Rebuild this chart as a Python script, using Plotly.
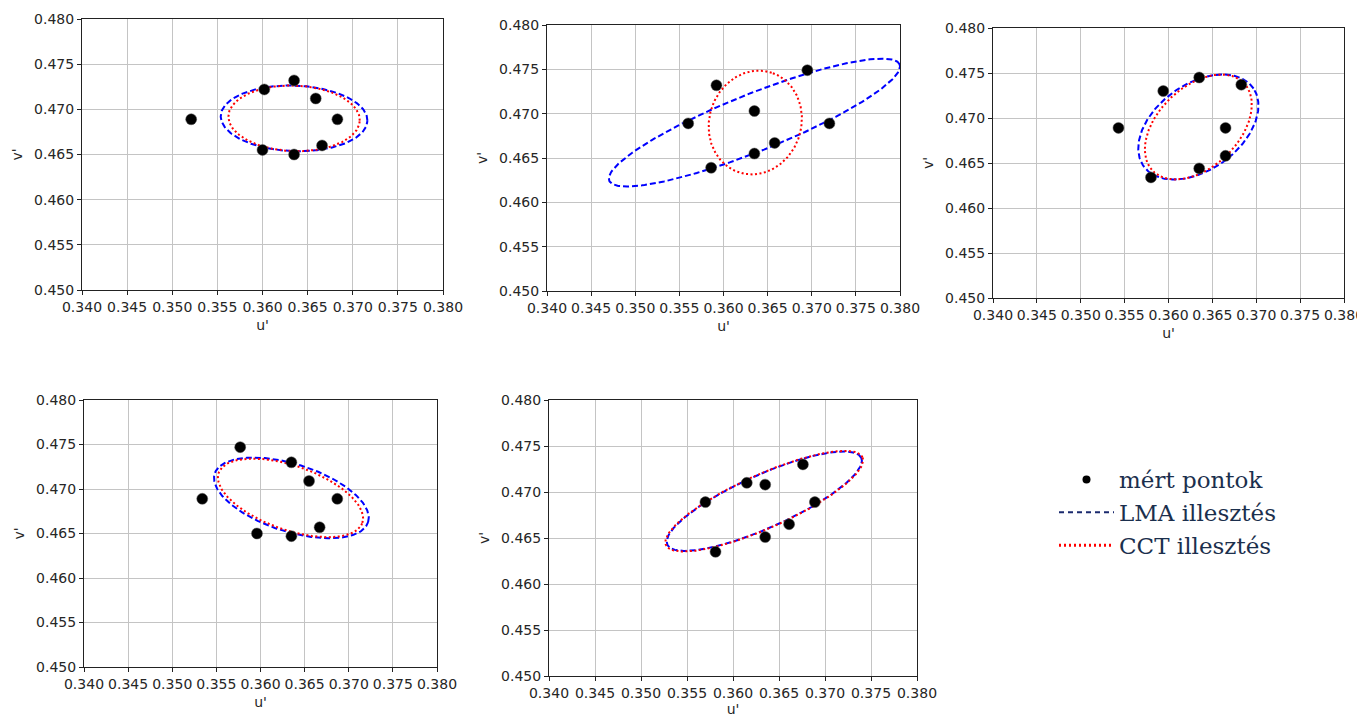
import numpy as np
import plotly.graph_objects as go

# ---------------- data ----------------
# measured points per panel (u', v')
u_p1 = [0.3521, 0.3602, 0.3635, 0.3659, 0.3683, 0.3666, 0.3635, 0.3600]
v_p1 = [0.4689, 0.4722, 0.4732, 0.4712, 0.4689, 0.4660, 0.4650, 0.4655]

u_p2 = [0.3560, 0.3592, 0.3586, 0.3635, 0.3635, 0.3658, 0.3695, 0.3720]
v_p2 = [0.4689, 0.4732, 0.4639, 0.4703, 0.4655, 0.4667, 0.4749, 0.4689]

u_p3 = [0.3543, 0.3594, 0.3635, 0.3683, 0.3665, 0.3665, 0.3635, 0.3580]
v_p3 = [0.4689, 0.4730, 0.4745, 0.4737, 0.4689, 0.4658, 0.4644, 0.4634]

u_p4 = [0.3534, 0.3577, 0.3596, 0.3635, 0.3655, 0.3687, 0.3667, 0.3635]
v_p4 = [0.4689, 0.4747, 0.4650, 0.4730, 0.4709, 0.4689, 0.4657, 0.4647]

u_p5 = [0.3570, 0.3581, 0.3615, 0.3635, 0.3635, 0.3661, 0.3676, 0.3689]
v_p5 = [0.4689, 0.4635, 0.4710, 0.4708, 0.4651, 0.4665, 0.4730, 0.4689]

# fitted ellipses: centre u, centre v, semi-major, semi-minor, angle (deg)
lma_p1 = [0.3635, 0.4690, 0.00813, 0.00363, -2.0]
cct_p1 = [0.3635, 0.4690, 0.00728, 0.00363, -2.0]
lma_p2 = [0.3635, 0.4690, 0.01771, 0.00324, 21.7]
cct_p2 = [0.3636, 0.4690, 0.00592, 0.00521, 71.7]
lma_p3 = [0.3634, 0.4690, 0.00761, 0.00480, 34.2]
cct_p3 = [0.3634, 0.4690, 0.00713, 0.00451, 42.0]
lma_p4 = [0.3635, 0.4690, 0.00911, 0.00380, -17.4]
cct_p4 = [0.3634, 0.4690, 0.00861, 0.00361, -19.0]
lma_p5 = [0.3634, 0.4690, 0.01155, 0.00289, 24.1]
cct_p5 = [0.3634, 0.4690, 0.01170, 0.00292, 24.1]

x_ticks = [0.340, 0.345, 0.350, 0.355, 0.360, 0.365, 0.370, 0.375, 0.380]
y_ticks = [0.450, 0.455, 0.460, 0.465, 0.470, 0.475, 0.480]

legend_labels = ["mért pontok", "LMA illesztés", "CCT illesztés"]

panels = [
    (u_p1, v_p1, lma_p1, cct_p1),
    (u_p2, v_p2, lma_p2, cct_p2),
    (u_p3, v_p3, lma_p3, cct_p3),
    (u_p4, v_p4, lma_p4, cct_p4),
    (u_p5, v_p5, lma_p5, cct_p5),
]

# ---------------- layout geometry (pixel boxes of the plot areas, screen px) ----------------
W, H = 1365, 715
OFF = 8  # page body margin
boxes = [  # left, right, top, bottom in screen px
    (82, 443, 19, 290),
    (547, 900, 25, 291),
    (993, 1344, 28, 298),
    (84, 437, 400, 667),
    (549, 917, 400, 676),
]
title_standoff = [6, 6, 6, 6, 1]


def ellipse(params, n=240):
    cu, cv, a, b, ang = params
    t = np.linspace(0, 2 * np.pi, n)
    th = np.deg2rad(ang)
    x = cu + a * np.cos(t) * np.cos(th) - b * np.sin(t) * np.sin(th)
    y = cv + a * np.cos(t) * np.sin(th) + b * np.sin(t) * np.cos(th)
    return x, y


fig = go.Figure()
layout = {}
for i, ((u, v, lma, cct), (l, r, t, b)) in enumerate(zip(panels, boxes)):
    l, r, t, b = l - OFF, r - OFF, t - OFF, b - OFF
    n = "" if i == 0 else str(i + 1)
    xa, ya = "x" + n, "y" + n
    ex, ey = ellipse(lma)
    fig.add_trace(go.Scatter(x=ex, y=ey, mode="lines", xaxis=xa, yaxis=ya,
                             line=dict(color="#0000ff", width=2, dash="6px,3px"),
                             showlegend=False, hoverinfo="skip"))
    cx, cy = ellipse(cct)
    fig.add_trace(go.Scatter(x=cx, y=cy, mode="lines", xaxis=xa, yaxis=ya,
                             line=dict(color="#ff0000", width=2, dash="2px,2.5px"),
                             showlegend=False, hoverinfo="skip"))
    fig.add_trace(go.Scatter(x=u, y=v, mode="markers", xaxis=xa, yaxis=ya,
                             marker=dict(color="black", size=11,
                                         line=dict(color="#555555", width=0.5)),
                             showlegend=False))
    common = dict(showgrid=True, gridcolor="#c4c4c4", gridwidth=1,
                  showline=True, linecolor="#222222", linewidth=1, mirror=True,
                  ticks="outside", ticklen=4, tickcolor="#222222",
                  tickfont=dict(family="DejaVu Sans", size=14, color="#262626"),
                  zeroline=False, automargin=False)
    layout["xaxis" + n] = dict(domain=[l / W, r / W], range=[0.340, 0.380],
                               tickvals=x_ticks, tickformat=".3f",
                               anchor=ya,
                               title=dict(text="u'", standoff=title_standoff[i],
                                          font=dict(family="DejaVu Sans", size=14, color="#262626")),
                               **common)
    layout["yaxis" + n] = dict(domain=[1 - b / H, 1 - t / H], range=[0.450, 0.480],
                               tickvals=y_ticks, tickformat=".3f",
                               anchor=xa,
                               title=dict(text="v'", standoff=8,
                                          font=dict(family="DejaVu Sans", size=14, color="#262626")),
                               **common)

# legend entries (styled like the reference's legend box)
fig.add_trace(go.Scatter(x=[None], y=[None], mode="markers", name=legend_labels[0],
                         marker=dict(color="black", size=8)))
fig.add_trace(go.Scatter(x=[None], y=[None], mode="lines", name=legend_labels[1],
                         line=dict(color="#1a2a6e", width=2, dash="5px,4px")))
fig.add_trace(go.Scatter(x=[None], y=[None], mode="lines", name=legend_labels[2],
                         line=dict(color="#ff0000", width=3, dash="2px,3px")))

fig.update_layout(
    width=W, height=H,
    margin=dict(l=0, r=0, t=0, b=0),
    paper_bgcolor="white", plot_bgcolor="white",
    showlegend=True,
    legend=dict(x=1046 / W, y=1 - 450 / H, xanchor="left", yanchor="top",
                font=dict(family="DejaVu Serif", size=23, color="#1b2f4d"),
                bgcolor="rgba(0,0,0,0)", itemwidth=55, tracegroupgap=0),
    **layout,
)

fig.write_html("out.html")
